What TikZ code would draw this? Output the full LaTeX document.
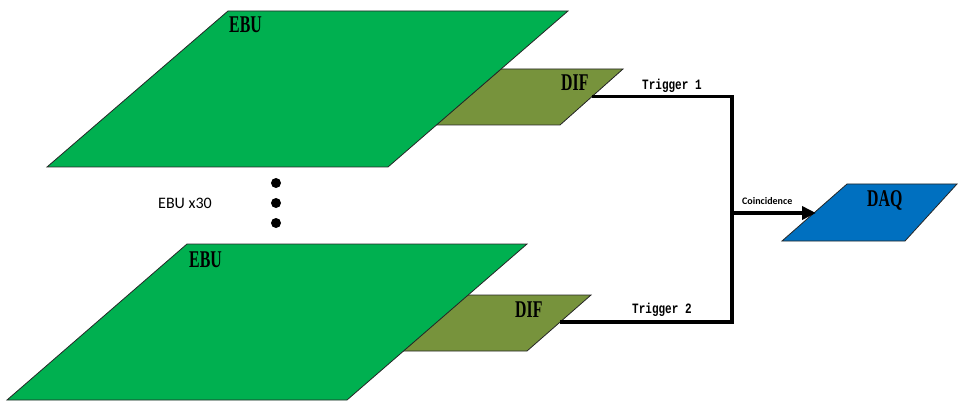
\documentclass[tikz,border=0pt]{standalone}
\usepackage{fontspec}
\setmainfont{Liberation Serif}
\newfontfamily\labfont{Carlito}
\newfontfamily\trigfont{Liberation Mono}
\usetikzlibrary{arrows.meta}
\definecolor{ebugreen}{HTML}{00B050}
\definecolor{difolive}{HTML}{77933C}
\definecolor{daqblue}{HTML}{0070C0}
\tikzset{
  board/.style={draw=black!85, line width=0.8pt, line join=miter},
  ebubox/.style={board, fill=ebugreen},
  difbox/.style={board, fill=difolive},
  daqbox/.style={board, fill=daqblue},
  bigtxt/.style={font=\bfseries\fontsize{24}{24}\selectfont, inner sep=0pt, anchor=base west},
  trigtxt/.style={font=\trigfont\bfseries\fontsize{11}{11}\selectfont, inner sep=0pt, anchor=base west},
  smalltxt/.style={font=\labfont\fontsize{16}{16}\selectfont, inner sep=0pt, anchor=base west},
  cointxt/.style={font=\labfont\bfseries\fontsize{10}{10}\selectfont, inner sep=0pt, anchor=base west},
  wire/.style={line width=3.5pt, line join=miter},
  dotmark/.style={circle, fill=black, inner sep=0pt, minimum size=10pt},
}
\newcommand{\cond}[1]{\scalebox{0.66}[1]{#1}}
\begin{document}
\begin{tikzpicture}[x=1pt,y=-1pt]
\useasboundingbox (0,0) rectangle (959,401);

% top DIF (under EBU)
\draw[difbox] (501,69) -- (623,69) -- (560,125) -- (436,125) -- cycle;
% top EBU
\draw[ebubox] (228,11) -- (568,11) -- (388,167) -- (47,167) -- cycle;
% bottom DIF
\draw[difbox] (467,295) -- (591,295) -- (527,351) -- (403,351) -- cycle;
% bottom EBU
\draw[ebubox] (187,244) -- (527,244) -- (347,400) -- (7,400) -- cycle;
% DAQ
\draw[daqbox] (782,241) -- (847,184) -- (957,184) -- (905,241) -- cycle;

% labels
\node[bigtxt] (ebu1) at (229,33) {\cond{EBU}};
\node[bigtxt] (ebu2) at (189,267) {\cond{EBU}};
\node[bigtxt] (dif1) at (561,91) {\cond{DIF}};
\node[bigtxt] (dif2) at (515,317) {\cond{DIF}};
\node[bigtxt] (daq) at (867,206) {\cond{DAQ}};

\node[trigtxt] (t1) at (642,89.5) {\scalebox{1}[1.3]{Trigger 1}};
\node[trigtxt] (t2) at (632,313) {\scalebox{1}[1.3]{Trigger 2}};
\node[cointxt] (coin) at (742,204.5) {Coincidence};
\node[smalltxt] (x30) at (158,208) {EBU x30};

% dots
\node[dotmark] (d1) at (276,183) {};
\node[dotmark] (d2) at (276,203) {};
\node[dotmark] (d3) at (276,223) {};

% wires
\coordinate (o1) at (592,96.5);
\coordinate (c1) at (732,96.5);
\coordinate (o2) at (560,322);
\coordinate (c2) at (732,322);
\coordinate (j) at (732,213);
\coordinate (tip) at (816,213);
\draw[wire] (o1) -- (c1) -- (c2) -- (o2);
\draw[wire, -{Triangle[length=14pt,width=13pt]}] (j) -- (tip);
\end{tikzpicture}
\end{document}
